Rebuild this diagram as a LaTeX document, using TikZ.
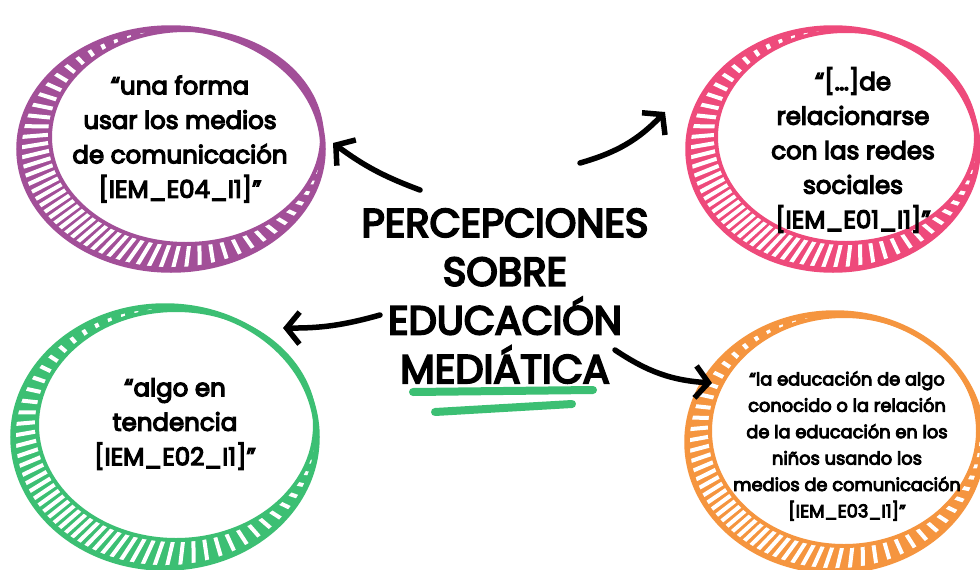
\documentclass[tikz,border=0pt]{standalone}
\usepackage{fontspec}
\setmainfont{Poppins}
\newfontfamily\handfont{Poppins}[FakeBold=5]
\newfontfamily\titlefont{Poppins}[FakeBold=5]
\usetikzlibrary{arrows.meta,calc}
\definecolor{cpurple}{HTML}{A24F98}
\definecolor{cpink}{HTML}{EE4A7B}
\definecolor{cgreen}{HTML}{3CBF73}
\definecolor{corange}{HTML}{F5953F}
\tikzset{
  qtext/.style={align=center, text=black, inner sep=0pt, font=\handfont\fontsize{24.5}{34.5}\selectfont},
  qsmall/.style={align=center, text=black, inner sep=0pt, font=\handfont\fontsize{17.8}{26.4}\selectfont},
  titletext/.style={align=center, text=black, inner sep=0pt, font=\titlefont\fontsize{40}{48.7}\selectfont},
  arrowline/.style={line width=5.5pt, line cap=round, -{Straight Barb[length=13pt,width=32pt]}},
  underline/.style={cgreen, line width=8pt, line cap=round}
}
\newcommand{\hatchring}[9]{%
  \begin{scope}
    \clip (#2,#3) ellipse [x radius=#4pt, y radius=#5pt];
    \fill[#1] (#2,#3) ellipse [x radius=#4pt, y radius=#5pt];
    \foreach \a in {0,4.5,...,355.5}{
      \draw[white, line width=4pt] ({#2+0.6*#4*cos(\a)},{#3-0.6*#5*sin(\a)}) -- ({#2+1.1*#4*cos(\a+10*cos(2*\a))},{#3-1.1*#5*sin(\a+10*cos(2*\a))});
    }
  \end{scope}
  \fill[white] (#6,#7) ellipse [x radius=#8pt, y radius=#9pt];
  \draw[#1, line width=4pt] (#6,#7) ellipse [x radius=#8pt, y radius=#9pt];
  \draw[#1, line width=5.5pt] (#2,#3) ellipse [x radius=#4pt, y radius=#5pt];
}
\begin{document}
\begin{tikzpicture}[x=1pt,y=-1pt]
  \fill[white] (0,0) rectangle (980,570);
  \useasboundingbox (0,0) rectangle (980,570);
  % rings
  \hatchring{cpurple}{171}{149}{152}{121}{186}{137}{136}{107}
  \hatchring{cpink}{833}{149}{145}{121}{846}{137}{130}{106}
  \hatchring{cgreen}{165}{437}{152}{131}{176}{425}{139}{115}
  \hatchring{corange}{835}{442}{148}{129}{844}{431}{134}{115}
  % texts
  \node[qtext] (q1) at (180,139) {“una forma\\usar los medios\\de comunicación\\{}[IEM\_E04\_I1]”};
  \node[qtext] (q2) at (853,150) {“[…]de\\relacionarse\\con las redes\\sociales\\{}[IEM\_E01\_I1]”};
  \node[qtext] (q3) at (175,424) {“algo en\\tendencia\\{}[IEM\_E02\_I1]”};
  \node[qsmall] (q4) at (847,446) {“la educación de algo\\conocido o la relación\\de la educación en los\\niños usando los\\medios de comunicación\\{}[IEM\_E03\_I1]”};
  \node[titletext] (t) at (505,296) {PERCEPCIONES\\SOBRE\\EDUCACIÓN\\MEDIÁTICA};
  % underline
  \coordinate (u1a) at (413,392); \coordinate (u1b) at (593,390);
  \coordinate (u2a) at (435,412); \coordinate (u2b) at (572,404);
  \draw[underline] (u1a) -- (u1b);
  \draw[underline] (u2a) -- (u2b);
  % arrows
  \coordinate (p1s) at (420,190); \coordinate (p1e) at (333,143);
  \coordinate (p2s) at (580,163); \coordinate (p2e) at (665,112);
  \coordinate (p3s) at (380,315); \coordinate (p3e) at (283,328);
  \coordinate (p4s) at (615,350); \coordinate (p4e) at (712,383);
  \draw[arrowline] (p1s) to[bend left=8] (p1e);
  \draw[arrowline] (p2s) to[bend right=15] (p2e);
  \draw[arrowline] (p3s) to[bend left=8] (p3e);
  \draw[arrowline] (p4s) to[bend right=15] (p4e);
\end{tikzpicture}
\end{document}
